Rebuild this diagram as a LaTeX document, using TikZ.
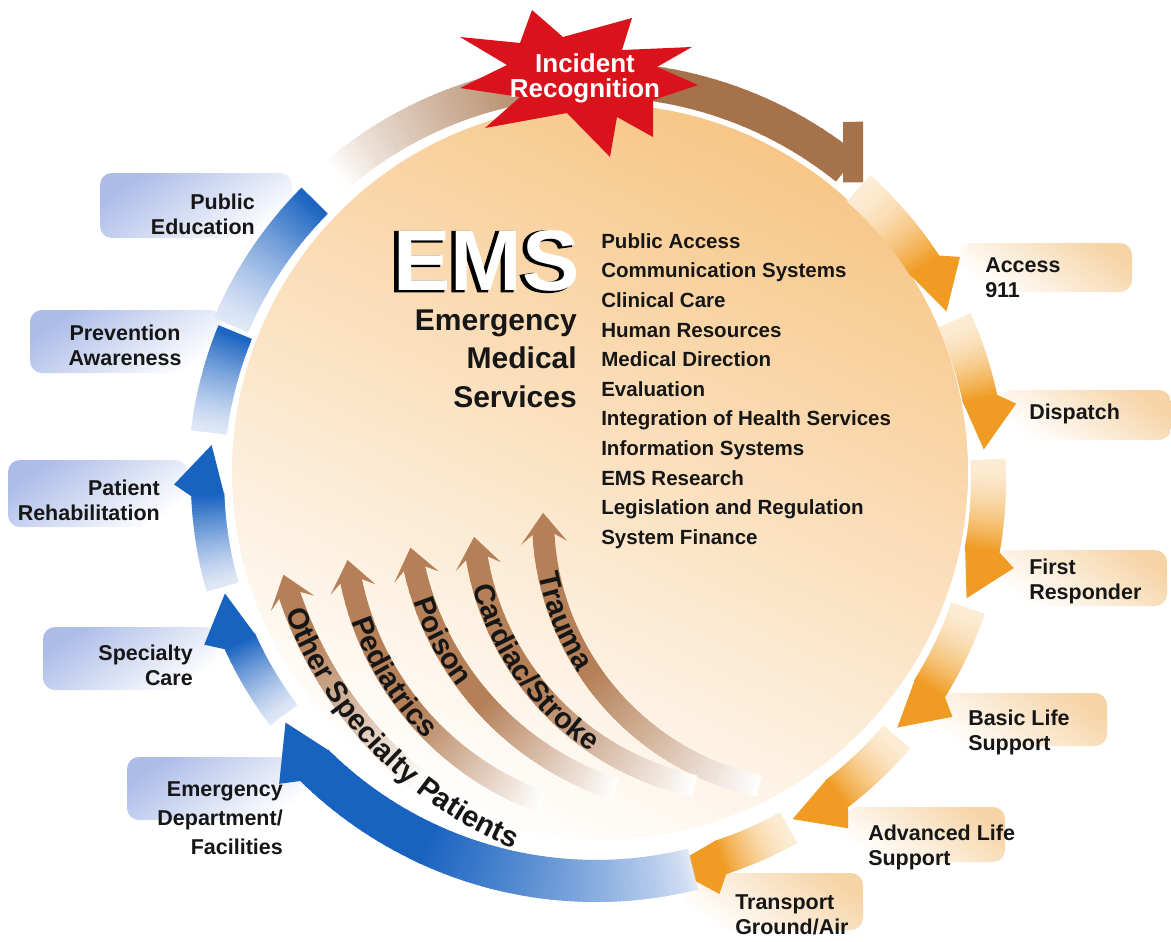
\documentclass[tikz,border=0pt]{standalone}
\usepackage{fontspec}
\setmainfont{Liberation Sans}
\newfontfamily\emsshadow{Liberation Sans}[FakeBold=2.5]
\usetikzlibrary{decorations.text}
\definecolor{discpeach}{RGB}{247,198,135}
\definecolor{ringorange}{RGB}{240,156,36}
\definecolor{orangepale}{RGB}{252,236,212}
\definecolor{brownC}{RGB}{166,114,74}
\definecolor{tanC}{RGB}{181,128,88}
\definecolor{blueC}{RGB}{24,98,192}
\definecolor{bluepale}{RGB}{224,232,247}
\definecolor{starred}{RGB}{218,18,28}
\definecolor{tabblue}{RGB}{172,188,232}
\definecolor{tabpeach}{RGB}{246,212,166}
\definecolor{inkC}{RGB}{22,22,22}

\newcommand\gam{1}
% cx, cy (image coords), r1, r2, a-start, a-end, colour at start, colour at end, steps
\newcommand\bandarc[9]{%
 \begin{scope}[shift={(#1,-#2)}]
 \foreach \i in {1,...,#9}{%
  \pgfmathsetmacro\angA{(#5)+((#6)-(#5))*(\i-1)/#9}%
  \pgfmathsetmacro\angB{(#5)+((#6)-(#5))*\i/#9-0.3}%
  \pgfmathtruncatemacro\mixp{100*((\i-0.5)/#9)^\gam}%
  \fill[#8!\mixp!#7] ({\angA}:{#3}) -- ({\angA}:{#4}) -- ({\angB}:{#4}) -- ({\angB}:{#3}) -- cycle;
 }
 \end{scope}}
% harpoon head on the ring: tip angle, r1, r2, colour
\newcommand\harp[4]{%
 \fill[#4, shift={(596,-480)}] ({#1+7.5}:{#2}) -- ({#1}:{#2+14}) -- ({#1+5.8}:{#3+17}) -- ({#1+7.5}:{#3}) -- cycle;}
% inner arrow: cx, cy, R, tip angle, full colour angle, faded end angle
\newcommand\inarrow[6]{%
 \pgfmathsetmacro\dlt{30/(#3)*57.2958}%
 \renewcommand\gam{1}%
 \bandarc{#1}{#2}{#3-11}{#3+11}{#6}{#5}{white}{tanC}{40}%
 \bandarc{#1}{#2}{#3-11}{#3+11}{#5}{#4+0.72*\dlt}{tanC}{tanC}{14}%
 \fill[tanC, shift={(#1,-#2)}] ({#4}:{#3}) -- ({#4+\dlt}:{#3+23}) -- ({#4+0.72*\dlt}:{#3+11}) -- ({#4+0.72*\dlt}:{#3-11}) -- ({#4+\dlt}:{#3-23}) -- cycle;}
% text along an arc
\newcommand\arctext[6]{%
 \path[decorate, decoration={text along path, text align=center, text color=inkC,
   text={|\fontsize{22}{26}\selectfont\bfseries|#6}}]
   (#1,-#2) ++(#4:#3) arc[start angle=#4, end angle=#5, radius={#3*0.75pt}];}

\begin{document}
\begin{tikzpicture}[x=0.75pt,y=0.75pt,
  tabL/.style={top color=tabblue, bottom color=white, shading angle=35, rounded corners=9pt},
  tabR/.style={top color=tabpeach, bottom color=white, shading angle=-35, rounded corners=9pt},
  lbl/.style={font=\fontsize{16.1}{18.75}\selectfont\bfseries, text=inkC, inner sep=0pt},
  lblthree/.style={font=\fontsize{16.1}{21.75}\selectfont\bfseries, text=inkC, inner sep=0pt},
  svc/.style={font=\fontsize{15.4}{18}\selectfont\bfseries, text=inkC, inner sep=0pt, anchor=base west},
  emsname/.style={font=\fontsize{22.5}{28.9}\selectfont\bfseries, text=inkC, inner sep=0pt},
  emsbig/.style={font=\fontsize{64.5}{70}\selectfont\bfseries, inner sep=0pt, anchor=base east},
  startxt/.style={font=\fontsize{19.5}{18.75}\selectfont\bfseries, text=white, inner sep=0pt}]
\useasboundingbox (0,0) rectangle (1171,-942);
\fill[white] (0,0) rectangle (1171,-942);

% label tabs
\shade[tabL] (100,-173) rectangle (292,-238);
\shade[tabL] (30,-310) rectangle (222,-373);
\shade[tabL] (8,-460) rectangle (187,-527);
\shade[tabL] (43,-627) rectangle (217,-690);
\shade[tabL] (127,-757) rectangle (307,-820);
\shade[tabR] (960,-243) rectangle (1132,-292);
\shade[tabR] (1000,-390) rectangle (1171,-440);
\shade[tabR] (995,-550) rectangle (1167,-606);
\shade[tabR] (925,-693) rectangle (1107,-746);
\shade[tabR] (845,-807) rectangle (1005,-862);
\shade[tabR] (685,-873) rectangle (863,-930);

% disc
\shade[top color=discpeach, bottom color=white, shading angle=-25] (600,-472) circle[radius=276pt];

% inner arrows
\inarrow{816}{519}{273}{178.7}{215}{258}
\inarrow{753}{512}{280}{185.1}{220}{258}
\inarrow{709}{502}{302}{188.7}{222}{252}
\inarrow{644}{521}{299}{187.5}{220}{250}
\inarrow{671}{468}{402}{195.4}{205}{232}

\arctext{816}{519}{283}{188}{216}{Trauma}
\arctext{753}{512}{290}{192}{239}{Cardiac/Stroke}
\arctext{709}{502}{312}{196}{219}{Poison}
\arctext{644}{521}{309}{196}{228}{Pediatrics}
\arctext{671}{468}{412}{198}{250}{Other Specialty Patients}

% ring: brown
\renewcommand\gam{0.8}
\bandarc{596}{480}{383}{418}{130}{92}{white}{brownC}{60}
\bandarc{596}{480}{383}{418}{92.3}{51.5}{brownC}{brownC}{28}
\fill[brownC, shift={(596,-480)}] (50.3:387) -- (48.1:400) -- (53.3:447) -- (55.4:435) -- cycle;

% ring: orange
\renewcommand\gam{1.7}
\bandarc{596}{480}{375}{410}{48}{33.2}{orangepale}{ringorange}{36}
\bandarc{596}{480}{375}{410}{24}{12}{orangepale}{ringorange}{30}
\bandarc{596}{480}{375}{410}{3}{-10.2}{orangepale}{ringorange}{32}
\bandarc{596}{480}{376}{411}{-19}{-31.9}{orangepale}{ringorange}{32}
\bandarc{596}{480}{378}{413}{-40.5}{-52.4}{orangepale}{ringorange}{30}
\bandarc{596}{480}{380}{415}{-61}{-71.7}{orangepale}{ringorange}{27}
\harp{25.7}{375}{410}{ringorange}
\harp{4.5}{375}{410}{ringorange}
\harp{-17.7}{375}{410}{ringorange}
\harp{-39.4}{376}{411}{ringorange}
\harp{-59.9}{378}{413}{ringorange}
\harp{-79.2}{380}{415}{ringorange}

% ring: blue
\renewcommand\gam{0.8}
\bandarc{596}{480}{380}{422}{284}{245}{bluepale}{blueC}{70}
\bandarc{596}{480}{380}{422}{245.3}{225.5}{blueC}{blueC}{16}
\harp{218}{380}{422}{blueC}
\renewcommand\gam{1.3}
\bandarc{596}{480}{374}{408}{217}{204.5}{bluepale}{blueC}{30}
\harp{197}{374}{408}{blueC}
\bandarc{596}{480}{372}{405}{196}{182.3}{bluepale}{blueC}{32}
\harp{174.8}{372}{405}{blueC}
\bandarc{596}{480}{372}{408}{173}{158}{bluepale}{blueC}{34}
\bandarc{596}{480}{378}{415}{157}{135.5}{bluepale}{blueC}{48}

% star
\fill[starred] (532,-10) -- (563,-37) -- (632,-18) -- (622,-50) -- (692,-47) -- (657,-67)
  -- (698,-85) -- (653,-100) -- (653,-137) -- (617,-117) -- (610,-157) -- (567,-113)
  -- (485,-128) -- (520,-97) -- (460,-88) -- (507,-65) -- (460,-37) -- (520,-43) -- cycle;
\node[startxt, align=center] (incident) at (585,-78) {Incident\\Recognition};

% EMS title with dark extrusion
\node[emsbig, text=black, font=\fontsize{64.5}{70}\selectfont\emsshadow\bfseries] (emsshade) at (576,-291.2) {EMS};
\node[emsbig, text=white] (ems) at (580,-290) {EMS};
\node[emsname, align=right, anchor=east] (emsfull) at (577,-358.5) {Emergency\\Medical\\Services};

% component list
\foreach \t [count=\i] in {Public Access, Communication Systems, Clinical Care, Human Resources,
  Medical Direction, Evaluation, Integration of Health Services, Information Systems,
  EMS Research, Legislation and Regulation, System Finance}
  \node[svc] (svc\i) at (601, {-248.3-29.6*(\i-1)}) {\t};

% labels
\node[lbl, align=right, anchor=east] (pubed) at (255,-214.5) {Public\\Education};
\node[lbl, align=center] (prev) at (125,-345) {Prevention\\Awareness};
\node[lbl, align=right, anchor=east] (rehab) at (160,-500) {Patient\\Rehabilitation};
\node[lbl, align=right, anchor=east] (spec) at (193,-665) {Specialty\\Care};
\node[lblthree, align=right, anchor=east] (emerg) at (283,-818) {Emergency\\Department/\\Facilities};
\node[lbl, align=left, anchor=west] (acc) at (985,-277.5) {Access\\911};
\node[lbl, anchor=west] (disp) at (1029,-414) {Dispatch};
\node[lbl, align=left, anchor=west] (first) at (1029,-581) {First\\Responder};
\node[lbl, align=left, anchor=west] (bls) at (968,-732) {Basic Life\\Support};
\node[lbl, align=left, anchor=west] (als) at (868,-847) {Advanced Life\\Support};
\node[lbl, align=left, anchor=west] (trans) at (735,-914.5) {Transport\\Ground/Air};
\end{tikzpicture}
\end{document}
